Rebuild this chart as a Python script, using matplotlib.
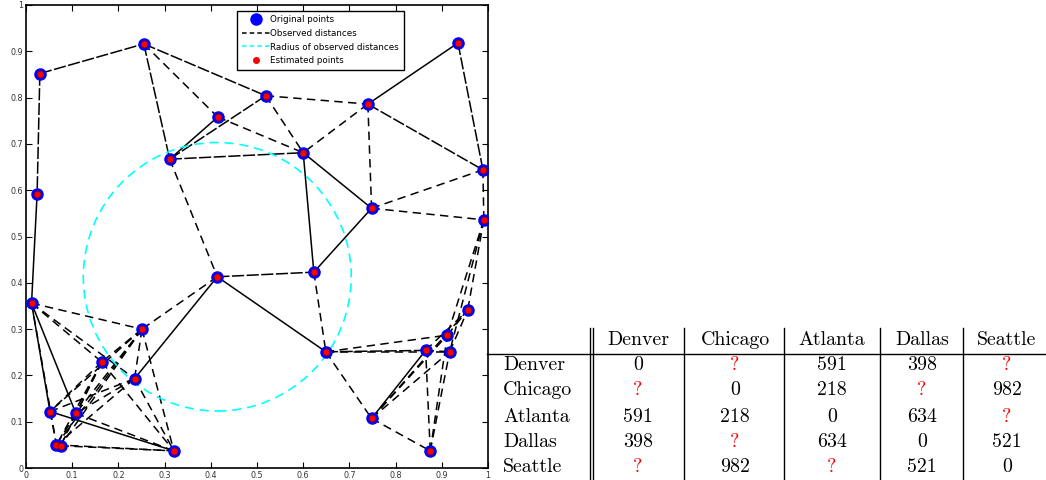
"""Localization from partial distances: point layout on the left,
city distance table (with unknown entries) on the right.
"""

import numpy as np
import matplotlib
matplotlib.use("Agg")
from matplotlib import pyplot as plt
from matplotlib.lines import Line2D
from matplotlib.patches import Circle

# point coordinates (original and estimated coincide)
px = [0.030, 0.024, 0.255, 0.311, 0.415, 0.519, 0.740, 0.935, 0.600, 0.748,
      0.989, 0.991, 0.414, 0.623, 0.012, 0.251, 0.164, 0.235, 0.052, 0.108,
      0.066, 0.075, 0.320, 0.649, 0.748, 0.875, 0.865, 0.912, 0.917, 0.956]
py = [0.852, 0.591, 0.916, 0.667, 0.758, 0.804, 0.786, 0.918, 0.681, 0.561,
      0.644, 0.536, 0.413, 0.423, 0.356, 0.300, 0.229, 0.193, 0.122, 0.118,
      0.050, 0.048, 0.037, 0.251, 0.107, 0.037, 0.254, 0.287, 0.251, 0.341]

# edges between points
solid_edges = [(1, 14), (3, 4), (6, 7), (8, 9), (8, 13), (13, 9), (12, 23),
               (12, 17), (14, 18), (14, 19), (18, 22), (24, 26)]
dashed_edges = [(2, 4), (3, 12), (4, 8), (5, 8), (5, 6), (6, 8), (6, 9),
                (9, 10), (9, 11), (10, 11), (11, 29), (11, 27), (11, 28),
                (12, 15), (13, 23), (23, 24), (23, 27), (23, 28),
                (24, 25), (24, 27), (24, 28), (24, 29), (25, 26), (25, 27),
                (25, 28), (26, 28), (27, 29), (28, 29), (26, 29),
                (14, 15), (14, 16), (14, 17), (14, 20), (15, 16), (15, 17),
                (15, 18), (15, 19), (15, 20), (15, 21), (15, 22), (16, 18),
                (16, 19), (16, 20), (16, 21), (16, 22), (17, 18), (17, 19),
                (17, 20), (17, 22), (18, 20), (19, 20), (19, 21), (20, 22),
                (21, 22), (19, 22)]
long_edges = [(0, 2), (0, 1), (2, 3), (2, 5), (3, 5), (3, 8), (6, 10),
              (7, 10), (12, 13), (23, 26)]

radius_center = 12
radius = 0.29

# distance table, None = unknown
cities = ["Denver", "Chicago", "Atlanta", "Dallas", "Seattle"]
dist = [
    [0, None, 591, 398, None],
    [None, 0, 218, None, 982],
    [591, 218, 0, 634, None],
    [398, None, 634, 0, 521],
    [None, 982, None, 521, 0],
]

fig = plt.figure(figsize=(10.46, 4.8), dpi=100)
fig.patch.set_facecolor("white")

ax = fig.add_axes([26 / 1046, 12 / 480, 462 / 1046, 463 / 480])
dash = (0, (5.5, 3.5))
long_dash = (0, (8, 1.6))
for i, j in solid_edges:
    ax.plot([px[i], px[j]], [py[i], py[j]], color="black", lw=1.1, zorder=2)
for i, j in dashed_edges:
    ax.plot([px[i], px[j]], [py[i], py[j]], color="black", lw=1.1,
            linestyle=dash, zorder=2)
for i, j in long_edges:
    ax.plot([px[i], px[j]], [py[i], py[j]], color="black", lw=1.1,
            linestyle=long_dash, zorder=2)

ax.add_patch(Circle((px[radius_center], py[radius_center]), radius,
                    fill=False, edgecolor="cyan", lw=1.2,
                    linestyle=dash, zorder=3))

ax.plot(px, py, "o", color="blue", markersize=8, zorder=4, linestyle="none")
ax.plot(px, py, "o", color="red", markeredgecolor="#600000",
        markeredgewidth=0.4, markersize=5.0, zorder=5, linestyle="none")

ax.set_xlim(0, 1)
ax.set_ylim(0, 1)
ticks = np.round(np.arange(0, 1.01, 0.1), 1)
ax.set_xticks(ticks)
ax.set_yticks(ticks)
ax.set_xticklabels([f"{t:g}" for t in ticks])
ax.set_yticklabels([f"{t:g}" for t in ticks])
ax.tick_params(direction="in", length=4, width=0.8, top=True, right=True,
               labelsize=5.8, labelcolor="#333333", pad=2)
for s in ax.spines.values():
    s.set_linewidth(1.2)

handles = [
    Line2D([], [], marker="o", color="blue", markersize=8, linestyle="none"),
    Line2D([], [], color="black", lw=1.1, linestyle=(0, (3, 2))),
    Line2D([], [], color="cyan", lw=1.1, linestyle=(0, (3, 2))),
    Line2D([], [], marker="o", color="red", markersize=4, linestyle="none"),
]
labels = ["Original points", "Observed distances",
          "Radius of observed distances", "Estimated points"]
leg = ax.legend(handles, labels, loc="upper left",
                bbox_to_anchor=(0.457, 0.988), fontsize=6.3, fancybox=False,
                framealpha=1, edgecolor="black", handlelength=3.2,
                handletextpad=0.1, borderpad=0.5, labelspacing=0.55,
                borderaxespad=0)
leg.get_frame().set_linewidth(1.0)

# table drawn in pixel coordinates
tax = fig.add_axes([0, 0, 1, 1])
tax.set_xlim(0, 1046)
tax.set_ylim(480, 0)
tax.axis("off")

col_x = [638, 735, 832, 922, 1007]
row_y = [365, 390, 417, 442, 467]
header_y = 340
tf = dict(family="cmr10", fontsize=14.3, va="center")

tax.plot([487, 1046], [354, 354], color="black", lw=1.0)
for x in (590, 593, 684, 784, 880, 963):
    tax.plot([x, x], [328, 480], color="black", lw=1.0)

for c, x in zip(cities, col_x):
    tax.text(x, header_y, c, ha="center", **tf)
for r, (c, y) in enumerate(zip(cities, row_y)):
    tax.text(503, y, c, ha="left", **tf)
    for k, x in enumerate(col_x):
        v = dist[r][k]
        if v is None:
            tax.text(x, y, "?", ha="center", color="red", **tf)
        else:
            tax.text(x, y, str(v), ha="center", color="black", **tf)

fig.savefig("out.png", dpi=100, facecolor="white")
